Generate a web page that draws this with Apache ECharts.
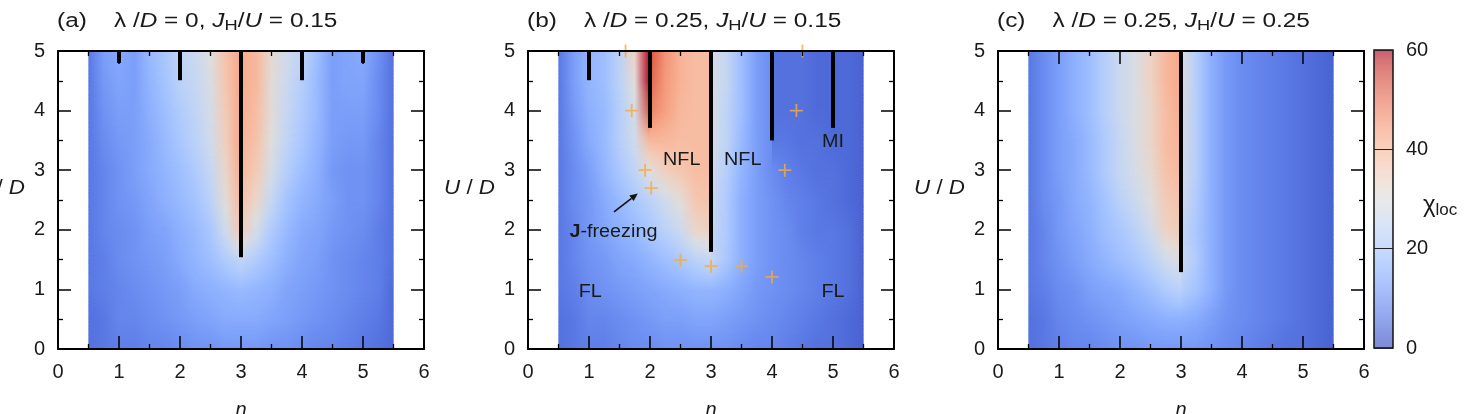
<!DOCTYPE html>
<html><head><meta charset="utf-8">
<script src="https://cdn.jsdelivr.net/npm/echarts@6/dist/echarts.min.js"></script>
<style>html,body{margin:0;padding:0;background:#fff;overflow:hidden}#c{width:1465px;height:414px}</style>
</head><body><div id="c"></div>
<script>
// ---------------- data ----------------
// n grid; the nodes at n = 2, 3, 4 appear twice: value just left / just right of the black line
const nNodes = [0.5,0.75,1,1.25,1.5,1.75,2,2,2.25,2.5,2.75,3,3,3.25,3.5,3.75,4,4,4.25,4.5,4.75,5,5.25,5.5];
const uNodes = [0,0.5,1,1.5,2,2.5,3,3.5,4,4.5,5];
const xTicks = [0,1,2,3,4,5,6];
const yTicks = [0,1,2,3,4,5];
const cbTicks = [0,20,40,60];

// chi_loc read on the grid: rows U = 0 ... 5, columns follow nNodes
const chiA = [
  [5,6,7,7,8,8,9,9,10,10,11,11,11,11,10,10,9,9,8,8,7,6,5,4],
  [5,6,8,8,9,10,11,11,12,13,14,14,14,14,13,12,11,11,10,9,8,7,6,4],
  [6,7,8,9,10,11,12,12,14,15,16,17,17,16,15,13,12,12,11,10,9,8,7,4],
  [6,7,9,10,11,12,14,14,16,18,21,24,24,21,18,15,13,13,12,10,9,8,7,5],
  [6,8,9,10,12,13,15,15,17,20,27,37,35,28,21,17,14,14,13,11,10,9,7,5],
  [6,8,10,11,13,15,17,17,19,23,31,40,38,33,25,19,16,16,14,12,10,10,8,5],
  [6,8,10,12,14,16,18,18,21,25,33,42,40,36,28,22,18,18,15,11,10,10,8,5],
  [6,9,11,12,14,17,20,20,23,27,35,43,41,38,30,24,20,20,16,12,11,11,8,5],
  [6,10,12,12,15,18,21,21,24,28,36,43,42,39,31,25,21,21,17,12,12,12,9,5],
  [6,11,13,12,16,19,23,23,25,29,37,43,42,40,31,26,22,22,17,12,13,13,9,5],
  [6,12,14,12,17,20,24,24,26,30,38,43,42,40,32,27,24,24,18,12,13,14,10,5]
];
const chiB = [
  [5,6,7,7,8,9,9,9,10,10,10,10,10,10,9,8,8,8,7,6,5,5,4,3],
  [5,6,8,8,9,10,11,11,12,12,13,13,13,12,11,10,9,9,8,7,6,5,4,3],
  [6,7,9,10,11,12,13,13,14,15,16,16,16,15,13,11,10,10,9,8,7,6,5,3],
  [6,8,10,11,13,14,16,16,18,20,23,25,25,20,15,12,10,10,9,8,7,6,5,3],
  [6,8,11,13,15,17,20,20,23,26,33,35,25,21,15,12,10,10,9,7,6,6,5,3],
  [6,9,11,14,17,20,23,23,27,31,37,38,26,21,15,12,10,10,8,7,6,5,4,3],
  [6,9,12,16,20,24,30,30,35,37,39,39,27,22,16,12,9,9,7,6,5,5,4,3],
  [6,10,14,17,22,27,40,40,40,39,39,39,28,24,17,12,9,6,6,5,5,4,4,3],
  [6,11,15,17,22,28,54,48,44,40,39,39,28,24,18,12,9,5,5,5,4,4,4,3],
  [6,12,16,18,23,31,60,52,45,41,39,39,28,25,18,12,9,5,5,5,4,4,4,3],
  [6,12,16,18,23,34,60,54,46,41,39,39,28,25,18,12,9,5,5,5,4,4,4,3]
];
const chiC = [
  [5,6,7,8,8,9,10,10,10,11,11,11,11,11,10,9,8,8,7,6,5,5,4,3],
  [5,6,8,9,10,11,12,12,13,14,15,15,15,14,12,10,9,9,8,7,6,5,4,3],
  [6,7,9,10,12,13,14,14,16,18,21,23,22,19,15,11,9,9,8,7,6,5,4,3],
  [6,8,10,12,14,16,18,18,20,23,27,30,26,21,15,11,9,9,8,7,6,5,4,3],
  [6,8,11,13,15,18,20,20,23,27,34,36,25,20,15,11,9,9,8,7,6,5,4,3],
  [6,9,11,14,16,19,23,23,26,30,36,38,27,21,15,11,9,9,8,7,6,5,4,3],
  [6,9,12,14,17,21,25,25,28,32,38,40,28,22,15,11,9,9,8,7,6,5,4,3],
  [6,9,12,14,17,21,25,25,29,33,39,41,29,22,15,11,9,9,8,7,6,5,4,3],
  [6,9,12,15,18,22,26,26,29,33,39,42,29,22,15,11,9,9,8,7,6,5,4,3],
  [6,9,12,15,18,22,26,26,29,34,40,43,30,22,15,11,9,9,8,7,6,5,4,3],
  [6,9,12,15,18,22,26,26,29,34,40,43,30,22,15,11,9,9,8,7,6,5,4,3]
];

// black transition lines: [n, U_start, U_end]
const linesA = [[1,4.8,5],[2,4.51,5],[3,1.54,5],[4,4.51,5],[5,4.8,5]];
const linesB = [[1,4.51,5],[2,3.71,5],[3,1.63,5],[4,3.5,5],[5,3.71,5]];
const linesC = [[3,1.29,5]];

// orange crosses in panel (b): [n, U]
const plusB = [[1.6,5.0],[4.5,5.0],[1.7,4.0],[4.4,4.0],[1.92,3.0],[2.02,2.7],[4.21,3.0],[2.5,1.49],[3.0,1.39],[3.5,1.39],[4.0,1.21]];

// annotations in panel (b)
const annTextB = ['NFL','NFL','MI','FL','FL','{b|J}-freezing'];
const annPosB = [[2.52,3.17],[3.52,3.17],[5.0,3.48],[1.02,0.96],[5.0,0.96],[1.40,1.96]];
const arrowB = [[1.41,2.30],[1.80,2.61]];

const panelTitles = [
  '(a)    {g|λ} /{i|D} = 0, {i|J}{s|H}/{i|U} = 0.15',
  '(b)    {g|λ} /{i|D} = 0.25, {i|J}{s|H}/{i|U} = 0.15',
  '(c)    {g|λ} /{i|D} = 0.25, {i|J}{s|H}/{i|U} = 0.25'
];

// ---------------- style / layout ----------------
const FONT = "'Liberation Sans', Arial, Helvetica, sans-serif";
const TXT = '#1a1a1a';
const gridLefts = [58, 528, 998];
const GT = 51, GH = 298, GW = 366;

// coolwarm colormap (Moreland), 33 stops
const CW = [[59,76,192],[68,90,204],[77,104,215],[87,117,225],[98,130,234],[108,142,241],[119,154,247],[130,165,251],[141,176,254],[152,185,255],[163,194,255],[174,201,253],[184,208,249],[194,213,244],[204,217,238],[213,219,230],[221,221,221],[229,216,209],[236,211,197],[241,204,185],[245,196,173],[247,187,160],[247,177,148],[247,166,135],[244,154,123],[241,141,111],[236,127,99],[229,112,88],[222,96,77],[213,80,66],[203,62,56],[192,40,47],[180,4,38]];
const VMIN = cbTicks[0], VMAX = cbTicks[cbTicks.length-1];
function cmap(v){
  let x = (v - VMIN)/(VMAX - VMIN); x = Math.max(0, Math.min(1, x)) * (CW.length-1);
  const i = Math.min(CW.length-2, Math.floor(x)), f = x - i;
  const a = CW[i], b = CW[i+1];
  return 'rgb(' + [0,1,2].map(k => Math.round(a[k] + (b[k]-a[k])*f)).join(',') + ')';
}

function heatRender(grid){
  return function(params, api){
    const j = api.value(0);
    const u0 = uNodes[j], u1 = uNodes[j+1];
    const lo = grid[j], hi = grid[j+1];
    const nFirst = nNodes[0], nLast = nNodes[nNodes.length-1];
    const K = 16, children = [];
    for (let k = 0; k < K; k++){
      const ua = u0 + (u1-u0)*k/K, ub = u0 + (u1-u0)*(k+1)/K, t = (k+0.5)/K;
      const pTop = api.coord([nFirst, ub]), pBot = api.coord([nLast, ua]);
      const stops = nNodes.map((n,i) => ({offset:(n-nFirst)/(nLast-nFirst), color:cmap(lo[i]*(1-t)+hi[i]*t)}));
      children.push({type:'rect', silent:true,
        shape:{x:pTop[0], y:pTop[1]-0.6, width:pBot[0]-pTop[0], height:pBot[1]-pTop[1]+1.2},
        style:{fill:new echarts.graphic.LinearGradient(0,0,1,0,stops)}});
    }
    return {type:'group', children};
  };
}
function lineRender(params, api){
  const a = api.coord([api.value(0), api.value(1)]), b = api.coord([api.value(0), api.value(2)]);
  return {type:'line', silent:true, shape:{x1:a[0],y1:a[1],x2:b[0],y2:b[1]}, style:{stroke:'#000', lineWidth:4, lineCap:'butt'}};
}

const series = [];
[chiA, chiB, chiC].forEach((g, p) => {
  series.push({type:'custom', xAxisIndex:2*p, yAxisIndex:2*p, z:1, silent:true,
    data: uNodes.slice(0,-1).map((u,j) => [j]), renderItem: heatRender(g)});
});
[linesA, linesB, linesC].forEach((L, p) => {
  series.push({type:'custom', xAxisIndex:2*p, yAxisIndex:2*p, z:3, silent:true, data:L, renderItem:lineRender});
});
series.push({type:'scatter', xAxisIndex:2, yAxisIndex:2, z:4, silent:true, data:plusB,
  symbol:'path://M8.6,0H11.4V8.6H20V11.4H11.4V20H8.6V11.4H0V8.6H8.6Z', symbolSize:13,
  itemStyle:{color:'#f6aa3a'}});
series.push({type:'custom', xAxisIndex:2, yAxisIndex:2, z:4, silent:true,
  data: annPosB.map((p,i) => [p[0], p[1], i]),
  renderItem: function(params, api){
    const c = api.coord([api.value(0), api.value(1)]);
    return {type:'text', x:c[0], y:c[1], scaleX:1.1, silent:true,
      style:{text:annTextB[api.value(2)], fill:TXT, fontSize:18, fontFamily:FONT, align:'center', verticalAlign:'middle',
        rich:{b:{fontWeight:'bold', fontSize:18, fontFamily:FONT, fill:TXT}}}};
  }});
series.push({type:'custom', xAxisIndex:2, yAxisIndex:2, z:4, silent:true,
  data:[[arrowB[0][0], arrowB[0][1], arrowB[1][0], arrowB[1][1]]],
  renderItem: function(params, api){
    const a = api.coord([api.value(0), api.value(1)]), b = api.coord([api.value(2), api.value(3)]);
    const dx = b[0]-a[0], dy = b[1]-a[1], L = Math.hypot(dx,dy), ux = dx/L, uy = dy/L;
    const h = 8, w = 3.5, bx = b[0]-ux*h, by = b[1]-uy*h;
    return {type:'group', children:[
      {type:'line', shape:{x1:a[0],y1:a[1],x2:bx,y2:by}, style:{stroke:'#111', lineWidth:1.6}},
      {type:'polygon', shape:{points:[[b[0],b[1]],[bx-uy*w,by+ux*w],[bx+uy*w,by-ux*w]]}, style:{fill:'#111'}}
    ]};
  }});
// colour bar
series.push({type:'custom', xAxisIndex:6, yAxisIndex:6, z:1, silent:true, data:[[0]],
  renderItem: function(params, api){
    const p0 = api.coord([0, VMAX]), p1 = api.coord([1, VMIN]);
    const stops = CW.map((c,i) => ({offset:i/(CW.length-1), color:cmap(VMAX - (VMAX-VMIN)*i/(CW.length-1))}));
    const shape = {x:p0[0], y:p0[1], width:p1[0]-p0[0], height:p1[1]-p0[1]};
    return {type:'group', children:[
      {type:'rect', shape, style:{fill:new echarts.graphic.LinearGradient(0,0,0,1,stops), opacity:0.66}},
      {type:'rect', shape, style:{fill:'none', stroke:'#111', lineWidth:1.5}}
    ]};
  }});

function xAx(g, top){
  return {gridIndex:g, type:'value', min:xTicks[0], max:xTicks[xTicks.length-1], interval:1, position: top?'top':'bottom', z:6,
    axisLine:{show:true, onZero:false, lineStyle:{color:'#000', width:2}},
    axisTick:{show:true, inside:true, length:13, lineStyle:{color:'#000', width:1.5}},
    minorTick:{show:true, splitNumber:2, length:5, lineStyle:{color:'#000', width:1.3}},
    axisLabel:{show:!top, margin:13, fontSize:20, color:TXT, fontFamily:FONT},
    splitLine:{show:false}};
}
function yAx(g, right){
  return {gridIndex:g, type:'value', min:yTicks[0], max:yTicks[yTicks.length-1], interval:1, position: right?'right':'left', z:6,
    axisLine:{show:true, onZero:false, lineStyle:{color:'#000', width:2}},
    axisTick:{show:true, inside:true, length:13, lineStyle:{color:'#000', width:1.5}},
    minorTick:{show:true, splitNumber:2, length:5, lineStyle:{color:'#000', width:1.3}},
    axisLabel:{show:!right, margin:13, fontSize:20, color:TXT, fontFamily:FONT},
    splitLine:{show:false}};
}
const xAxis = [], yAxis = [];
[0,1,2].forEach(p => { xAxis.push(xAx(p,false), xAx(p,true)); yAxis.push(yAx(p,false), yAx(p,true)); });
xAxis.push({gridIndex:3, type:'value', min:0, max:1, show:false});
yAxis.push({gridIndex:3, type:'value', min:VMIN, max:VMAX, interval:20, position:'right', z:6,
  axisLine:{show:false}, axisTick:{show:false},
  axisLabel:{show:true, margin:13, fontSize:20, color:TXT, fontFamily:FONT},
  splitLine:{show:true, lineStyle:{color:'#222', width:1}}});

const grid = gridLefts.map(l => ({left:l, top:GT, width:GW, height:GH}));
grid.push({left:1374, top:50, width:19, height:298});

const graphic = [];
const richT = {
  g:{fontSize:20, fontFamily:FONT, fill:TXT},
  i:{fontStyle:'italic', fontSize:20, fontFamily:FONT, fill:TXT},
  s:{fontSize:15, fontFamily:FONT, fill:TXT, padding:[10,0,0,0]}
};
panelTitles.forEach((t, p) => {
  graphic.push({type:'text', x:gridLefts[p]-1, y:21, scaleX:1.22, silent:true,
    style:{text:t, fontSize:20, fontFamily:FONT, fill:TXT, verticalAlign:'middle', rich:richT}});
  graphic.push({type:'text', x:gridLefts[p]-33, y:188, scaleX:1.12, silent:true,
    style:{text:'{i|U} / {i|D}', fontSize:20, fontFamily:FONT, fill:TXT, align:'right', verticalAlign:'middle', rich:richT}});
  graphic.push({type:'text', x:gridLefts[p]+GW/2, y:410, silent:true,
    style:{text:'n', fontSize:20, fontStyle:'italic', fontFamily:FONT, fill:TXT, align:'center', verticalAlign:'middle'}});
});
graphic.push({type:'text', x:1423, y:205, silent:true,
  style:{text:'χ{s|loc}', fontSize:24, fontFamily:FONT, fill:TXT, verticalAlign:'middle',
    rich:{s:{fontSize:17, fontFamily:FONT, fill:TXT, padding:[10,0,0,0]}}}});

const chart = echarts.init(document.getElementById('c'), null, {renderer:'canvas'});
chart.setOption({animation:false, backgroundColor:'#fff', grid, xAxis, yAxis, series, graphic});
</script></body></html>
